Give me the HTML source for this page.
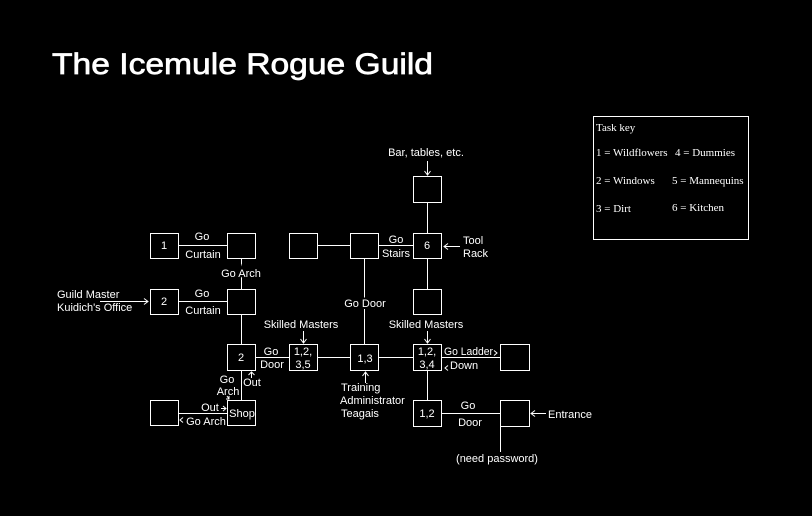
<!DOCTYPE html>
<html><head><meta charset="utf-8"><style>
html,body{margin:0;padding:0;background:#000;}
svg{display:block}
text{font-family:"Liberation Sans",sans-serif;font-size:11px;fill:#fff}
.c{text-anchor:middle}
.s{font-family:"Liberation Serif",serif;font-size:11px}
.bg{stroke:#000;stroke-width:4px;paint-order:stroke}
</style></head><body>
<svg width="812" height="516" viewBox="0 0 812 516" xmlns="http://www.w3.org/2000/svg">
<rect width="812" height="516" fill="#000"/>
<text x="52" y="74" style="font-size:30px;stroke:#fff;stroke-width:0.7px" textLength="381" lengthAdjust="spacingAndGlyphs">The Icemule Rogue Guild</text>
<g stroke="#fff" stroke-width="1" fill="none">
<path d="M178 245.5H227M241.5 258V289M178 301.5H227M241.5 314V345M255 357.5H289M317 357.5H350M379 357.5H413M442 357.5H500M427.5 370V400M442 413.5H500M500.5 413V452M241.5 370V400M178 413.5H227M317 245.5H350M379 245.5H413M427.5 202V233M427.5 258V289M364.5 258V345"/>
<rect x="150.5" y="233.5" width="28" height="25"/>
<rect x="227.5" y="233.5" width="28" height="25"/>
<rect x="289.5" y="233.5" width="28" height="25"/>
<rect x="350.5" y="233.5" width="28" height="25"/>
<rect x="413.5" y="233.5" width="28" height="25"/>
<rect x="413.5" y="176.5" width="28" height="26"/>
<rect x="150.5" y="289.5" width="28" height="25"/>
<rect x="227.5" y="289.5" width="28" height="25"/>
<rect x="413.5" y="289.5" width="28" height="25"/>
<rect x="227.5" y="344.5" width="28" height="26"/>
<rect x="289.5" y="344.5" width="28" height="26"/>
<rect x="350.5" y="344.5" width="28" height="26"/>
<rect x="413.5" y="344.5" width="28" height="26"/>
<rect x="500.5" y="344.5" width="29" height="26"/>
<rect x="150.5" y="400.5" width="28" height="25"/>
<rect x="227.5" y="400.5" width="28" height="25"/>
<rect x="413.5" y="400.5" width="28" height="26"/>
<rect x="500.5" y="400.5" width="29" height="26"/>
<rect x="593.5" y="116.5" width="155" height="123"/>
<path d="M100 301.5H148M144 298.5L148 301.5L144 304.5"/>
<path d="M303.5 331V343M300.5 339L303.5 343L306.5 339"/>
<path d="M427.5 331V343M424.5 339L427.5 343L430.5 339"/>
<path d="M427.5 161V175M424.5 171L427.5 175L430.5 171"/>
<path d="M460 246.5H444M448 243.5L444 246.5L448 249.5"/>
<path d="M546 413.5H531M535 410.5L531 413.5L535 416.5"/>
<path d="M365.5 383V372M362.5 376L365.5 372L368.5 376"/>
<path d="M251.5 378V372M248.5 375L251.5 372L254.5 375"/>
<path d="M227 396L229 399M226 399H229V396" />
<path d="M221 408.5H226M223 406L226 408.5L223 411"/>
<path d="M183 417.5L180 420L183 422.5"/>
<path d="M494 355.5L497 353L494 350.5"/>
<path d="M448 365.5L445 368L448 370.5"/>
</g>
<g>
<text class="c" x="164" y="249">1</text>
<text class="c" x="164" y="305">2</text>
<text class="c" x="241" y="361">2</text>
<text class="c" x="427" y="249">6</text>
<text class="c" x="303" y="355">1,2,</text>
<text class="c" x="303" y="368">3,5</text>
<text class="c" x="365" y="362">1,3</text>
<text class="c" x="427" y="355">1,2,</text>
<text class="c" x="427" y="368">3,4</text>
<text class="c" x="427" y="417">1,2</text>
<text class="c" x="242" y="417">Shop</text>
<text class="c" x="202" y="240">Go</text>
<text class="c" x="203" y="258">Curtain</text>
<text class="c bg" x="241" y="277">Go Arch</text>
<text class="c" x="202" y="297">Go</text>
<text class="c" x="203" y="314">Curtain</text>
<text x="57" y="298">Guild Master</text>
<text x="57" y="311">Kuidich's Office</text>
<text class="c" x="301" y="328">Skilled Masters</text>
<text class="c" x="426" y="328">Skilled Masters</text>
<text class="c" x="271" y="355">Go</text>
<text class="c" x="272" y="368">Door</text>
<text class="c" x="227" y="383">Go</text>
<text class="c" x="228" y="395">Arch</text>
<text class="c" x="252" y="386">Out</text>
<text class="c" x="210" y="411">Out</text>
<text class="c" x="206" y="425">Go Arch</text>
<text class="c bg" x="365" y="307">Go Door</text>
<text class="c" x="396" y="243">Go</text>
<text class="c" x="396" y="257">Stairs</text>
<text x="463" y="244">Tool</text>
<text x="463" y="257">Rack</text>
<text class="c" x="426" y="156">Bar, tables, etc.</text>
<text x="444" y="355" textLength="49" lengthAdjust="spacingAndGlyphs">Go Ladder</text>
<text x="450" y="369">Down</text>
<text x="341" y="391">Training</text>
<text x="340" y="404">Administrator</text>
<text x="341" y="417">Teagais</text>
<text class="c" x="468" y="409">Go</text>
<text class="c" x="470" y="426">Door</text>
<text x="548" y="418">Entrance</text>
<text class="c" x="497" y="462">(need password)</text>
<text class="s" x="596" y="131">Task key</text>
<text class="s" x="596" y="156">1 = Wildflowers</text>
<text class="s" x="675" y="156">4 = Dummies</text>
<text class="s" x="596" y="184">2 = Windows</text>
<text class="s" x="672" y="184">5 = Mannequins</text>
<text class="s" x="596" y="212">3 = Dirt</text>
<text class="s" x="672" y="211">6 = Kitchen</text>
</g>
</svg>
</body></html>
